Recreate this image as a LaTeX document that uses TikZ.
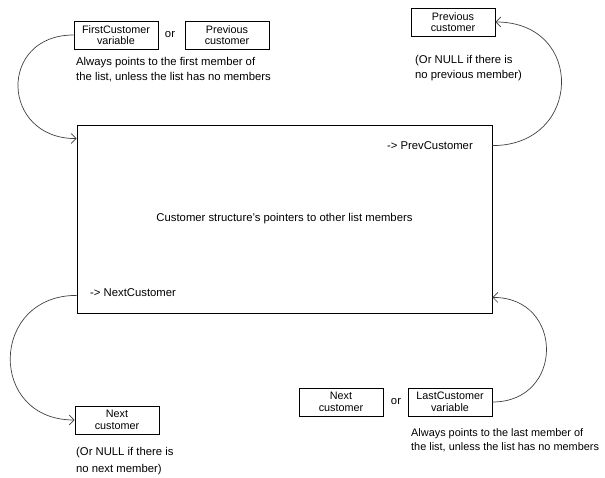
\documentclass[tikz,border=0pt]{standalone}
\usepackage{fontspec}
\setmainfont{Liberation Sans}
\usetikzlibrary{arrows.meta}

\begin{document}
\begin{tikzpicture}[x=1pt, y=-1pt,
        ptrbox/.style={draw, line width=0.8pt, minimum width=84pt, minimum height=28pt, inner sep=0pt, align=center, font=\fontsize{10.8}{11.5}\selectfont},
        note/.style={anchor=west, align=left, inner sep=0pt, font=\fontsize{11.3}{15}\selectfont},
        link/.style={line width=0.7pt, black!75, -{Straight Barb[length=5pt,width=10pt]}}]
        \useasboundingbox (0, 0) rectangle (605, 478);

        % the customer structure
        \node[draw, line width=0.8pt, minimum width=415pt, minimum height=188pt, font=\fontsize{11.3}{15}\selectfont] (cust) at (284.5, 219) {Customer structure's pointers to other list members};
        \node[note, anchor=east] (prevptr) at (473, 146) {-> PrevCustomer};
        \node[note] (nextptr) at (90, 293) {-> NextCustomer};

        % top left
        \node[ptrbox] (firstvar) at (116, 35) {FirstCustomer\\variable};
        \node[note, anchor=center] (or1) at (170, 35) {or};
        \node[ptrbox] (prevcust1) at (227, 35) {Previous\\customer};
        \node[note] (firstnote) at (76, 69.5) {Always points to the first member of\\the list, unless the list has no members};

        % top right
        \node[ptrbox] (prevcust) at (453, 22) {Previous\\customer};
        \node[note] (prevnote) at (415, 68) {(Or NULL if there is\\no previous member)};

        % bottom left
        \node[ptrbox] (nextcust) at (117, 420) {Next\\customer};
        \node[note] (nextnote) at (76, 461) {(Or NULL if there is\\[2pt]no next member)};

        % bottom right
        \node[ptrbox] (nextcust2) at (341, 402) {Next\\customer};
        \node[note, anchor=center] (or2) at (396, 402) {or};
        \node[ptrbox] (lastvar) at (450, 402) {LastCustomer\\variable};
        \node[note, font=\fontsize{10.9}{14.5}\selectfont] (lastnote) at (411, 440) {Always points to the last member of\\the list, unless the list has no members};

        \draw[link] (firstvar.west) .. controls +(-76, 0) and +(-76, 0) .. ([yshift=-14pt]cust.north west);
        \draw[link] ([yshift=-21pt]cust.north east) .. controls +(90, 0) and +(90, 0) .. (prevcust.east);
        \draw[link] ([yshift=18pt]cust.south west) .. controls +(-87, 0) and +(-87, 0) .. (nextcust.west);
        \draw[link] (lastvar.east) .. controls +(72, 0) and +(72, 0) .. ([yshift=16pt]cust.south east);
    \end{tikzpicture}
\end{document}
